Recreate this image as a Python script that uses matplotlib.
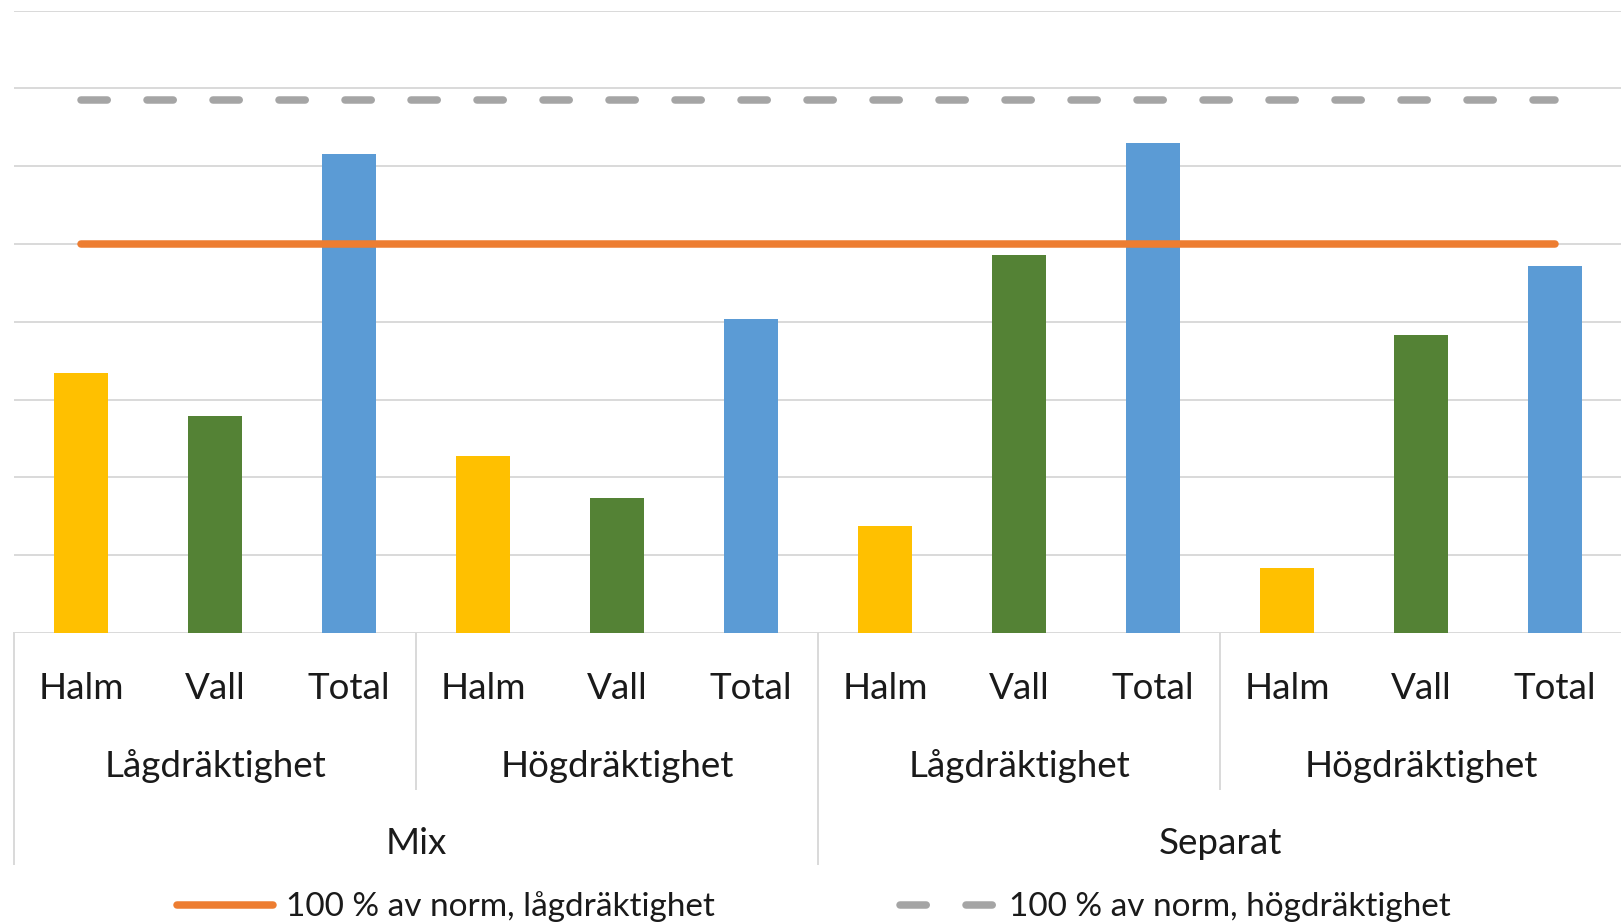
import matplotlib
matplotlib.use('Agg')
import matplotlib.pyplot as plt
import matplotlib.transforms as mtransforms
from matplotlib.lines import Line2D
import numpy as np

plt.rcParams['font.family'] = ['Lato', 'DejaVu Sans']

# --- Data ---
groups = ['Mix', 'Separat']
subgroups = ['Lågdräktighet', 'Högdräktighet']
components = ['Halm', 'Vall', 'Total']

# one value per (group, subgroup): Mix-Låg, Mix-Hög, Separat-Låg, Separat-Hög
halm = [66.8, 45.4, 27.6, 16.8]
vall = [55.8, 34.6, 97.2, 76.6]
total = [123.0, 80.6, 126.0, 94.4]

norm_low = 100
norm_high = 137
legend_labels = ['100 % av norm, lågdräktighet', '100 % av norm, högdräktighet']

# --- Styling ---
comp_colors = {'Halm': '#FFC000', 'Vall': '#548235', 'Total': '#5B9BD5'}
grid_color = '#D9D9D9'
text_color = '#1A1A1A'
fs = 26.5
fs_leg = 24

fig = plt.figure(figsize=(16.21, 9.23), dpi=100)
ax = fig.add_axes([14 / 1621, 290 / 923, 1608 / 1621, 622.5 / 923])

# interleave Halm/Vall/Total for every subgroup
heights, colors = [], []
for i in range(len(halm)):
    for comp, val in zip(components, (halm[i], vall[i], total[i])):
        heights.append(val)
        colors.append(comp_colors[comp])
x = np.arange(len(heights))

ax.bar(x, heights, width=0.4, color=colors, zorder=2)

ln_low, = ax.plot(x, [norm_low] * len(x), color='#ED7D31', lw=5.4,
                  solid_capstyle='round', zorder=3)
ln_high, = ax.plot(x, [norm_high] * len(x), color='#A5A5A5', lw=5.4,
                   linestyle=(0, (3.5, 5.3)), dash_capstyle='round', zorder=3)

ax.set_xlim(-0.5, len(x) - 0.5)
ax.set_ylim(0, 160)
ax.set_yticks(np.arange(0, 161, 20))
ax.set_xticks([])
ax.yaxis.grid(True, color=grid_color, lw=1.4, zorder=0)
ax.tick_params(length=0, labelleft=False, labelbottom=False)
for sp in ax.spines.values():
    sp.set_visible(False)

# --- Multi-level category axis ---
trans = mtransforms.blended_transform_factory(ax.transData, ax.transAxes)
row1, row2, row3 = -0.106, -0.231, -0.355
short_end, long_end = -0.2506, -0.371

for k in x:
    ax.text(k, row1, components[k % 3], transform=trans, ha='center',
            va='baseline', fontsize=fs, color=text_color)

n_comp = len(components)
for s in range(len(halm)):
    center = s * n_comp + (n_comp - 1) / 2
    ax.text(center, row2, subgroups[s % len(subgroups)], transform=trans,
            ha='center', va='baseline', fontsize=fs, color=text_color)

per_group = n_comp * len(subgroups)
for g, name in enumerate(groups):
    center = g * per_group + (per_group - 1) / 2
    ax.text(center, row3, name, transform=trans, ha='center',
            va='baseline', fontsize=fs, color=text_color)

# separators between subgroups and groups
for b in np.arange(0, len(x) + 1, n_comp) - 0.5:
    end = long_end if (b + 0.5) % per_group == 0 else short_end
    ax.add_line(Line2D([b, b], [0, end], transform=trans, color=grid_color,
                       lw=1.4, clip_on=False))

leg = ax.legend([ln_low, ln_high], legend_labels, loc='center',
                bbox_to_anchor=(0.4975, -0.440), ncol=2, frameon=False,
                fontsize=fs_leg, handlelength=2.87, handletextpad=0.41,
                columnspacing=5.55, labelcolor=text_color)

fig.savefig('out.png', dpi=100, facecolor='white')
